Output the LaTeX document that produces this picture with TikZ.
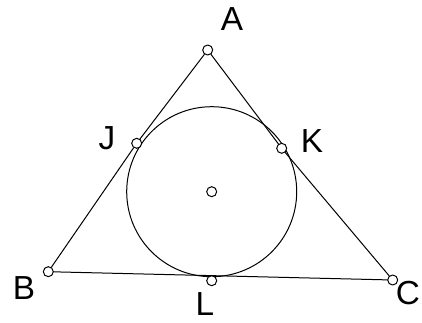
\documentclass[tikz,border=0pt]{standalone}
\usepackage{fontspec}
\setmainfont{Liberation Sans}
\tikzset{
  every picture/.style={line join=round, line cap=round},
  pt/.style={circle, draw, fill=white, inner sep=0pt, minimum size=7.5pt, line width=0.75pt},
  lbl/.style={font=\fontsize{25}{30}\selectfont, inner sep=0pt},
  side/.style={line width=0.75pt},
}
\begin{document}
\begin{tikzpicture}[x=0.75pt,y=-0.75pt]
\useasboundingbox (0,0) rectangle (422,322);
% incircle
\draw[side] (211.7,191.7) circle[radius=85];
% vertices and touch points
\node[pt] (A) at (207.7,50) {};
\node[pt] (B) at (48.3,271.7) {};
\node[pt] (C) at (392.7,280) {};
\node[pt] (J) at (136.7,143.3) {};
\node[pt] (K) at (281.7,148.3) {};
\node[pt] (L) at (211.7,280.7) {};
\node[pt] (O) at (211.7,191.7) {};
% sides
\draw[side] (A) -- (J);
\draw[side] (J) -- (B);
\draw[side] (B) -- (C);
\draw[side] (C) -- (K);
\draw[side] (K) -- (A);
% labels
\node[lbl] (lA) at (232,19) {A};
\node[lbl] (lB) at (24,288) {B};
\node[lbl] (lC) at (408,293) {C};
\node[lbl] (lJ) at (107,138) {J};
\node[lbl] (lK) at (312,141) {K};
\node[lbl] (lL) at (205,304) {L};
\end{tikzpicture}
\end{document}
